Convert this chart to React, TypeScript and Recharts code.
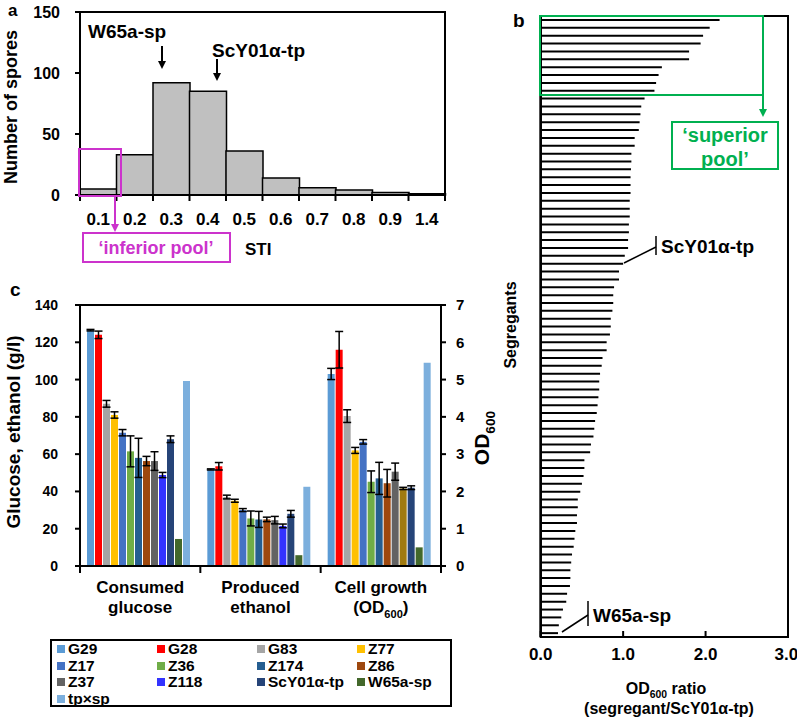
import React from "react";
import { Bar, BarChart, Cell, ComposedChart, ErrorBar, Legend, Line, XAxis, YAxis } from "recharts";

const FONT = "Arial, 'Liberation Sans', Helvetica, sans-serif";
const MAGENTA = "#cc33cc";
const GREEN = "#00b050";

// panel a: STI histogram
const stiBins = ["0.1", "0.2", "0.3", "0.4", "0.5", "0.6", "0.7", "0.8", "0.9", "1.4"];
const sporeCounts = [5, 33, 92, 85, 36, 14, 6, 4, 2, 1];
const sporeTicks = [0, 50, 100, 150];

// panel b: OD600 ratio of each segregant, sorted
const segregantRatios = [
  2.17, 2.05, 1.97, 1.94, 1.8, 1.8, 1.47, 1.43, 1.4, 1.38,
  1.26, 1.22, 1.21, 1.2, 1.19, 1.14, 1.14, 1.1, 1.1, 1.095,
  1.09, 1.09, 1.09, 1.08, 1.08, 1.08, 1.07, 1.07, 1.06, 1.06,
  1.02, 1.0, 0.95, 0.95, 0.89, 0.88, 0.88, 0.87, 0.85, 0.85,
  0.84, 0.8, 0.8, 0.75, 0.74, 0.72, 0.71, 0.71, 0.7, 0.69,
  0.68, 0.66, 0.65, 0.64, 0.61, 0.6, 0.53, 0.53, 0.52, 0.5,
  0.48, 0.45, 0.45, 0.44, 0.44, 0.42, 0.41, 0.4, 0.38, 0.37,
  0.36, 0.36, 0.355, 0.32, 0.31, 0.27, 0.25, 0.22, 0.21,
];
const ratioTicks = [0, 1, 2, 3];

// panel c: fermentation
const strains = ["G29", "G28", "G83", "Z77", "Z17", "Z36", "Z174", "Z86", "Z37", "Z118", "ScY01α-tp", "W65a-sp", "tp×sp"];
const strainColors = ["#5b9bd5", "#ff0000", "#a5a5a5", "#ffc000", "#4472c4", "#70ad47", "#255e91", "#9e480e", "#636363", "#3333ff", "#264478", "#43682b", "#7cafdd"];
const categoryLines = [["Consumed", "glucose"], ["Produced", "ethanol"], ["Cell growth", "(OD600)"]];
const glucose = [126.5, 124, 87, 81, 71.5, 61.5, 58, 56.3, 56.3, 48.8, 68, 14.5, 99.3];
const glucoseErr = [0.4, 2, 1.8, 1.7, 1.7, 8.3, 10.5, 2.5, 5, 1.4, 1.8, null, null];
const ethanol = [51.8, 53.5, 37, 35, 30, 25.5, 25, 25, 24.6, 21.5, 28, 5.8, 42.5];
const ethanolErr = [0.3, 2, 1, 0.8, 0.8, 4, 4.3, 1.2, 2, 1, 1.8, null, null];
const od600 = [5.15, 5.8, 4.02, 3.1, 3.33, 2.26, 2.35, 2.22, 2.53, 2.08, 2.1, 0.5, 5.45];
const od600Err = [0.15, 0.49, 0.17, 0.08, 0.06, 0.29, 0.43, 0.37, 0.23, 0.03, 0.05, null, null];
const glTicks = [0, 20, 40, 60, 80, 100, 120, 140];
const odTicks = [0, 1, 2, 3, 4, 5, 6, 7];
// the Z118 bar in the OD group is drawn in another colour in the original
const odZ118Color = "#a07a10";

const histData = stiBins.map((bin, i) => ({ bin, count: sporeCounts[i] }));
const segData = segregantRatios.map((ratio, i) => ({ id: String(i + 1), ratio }));

const GL_PER_OD = 140 / 7; // right axis 0-7 shares the left axis 0-140
const groupVals = [glucose, ethanol, od600.map((v) => v * GL_PER_OD)];
const groupErrs = [glucoseErr, ethanolErr, od600Err.map((v) => (v == null ? null : v * GL_PER_OD))];
const categories = categoryLines.map((l) => l.join(" "));
const fermData = categories.map((cat, g) => {
  const row: Record<string, any> = { cat, od: g === 2 ? Math.max(...od600) : null };
  strains.forEach((_, i) => {
    row["v" + i] = groupVals[g][i];
    if (groupErrs[g][i] != null) row["e" + i] = groupErrs[g][i];
  });
  return row;
});

const STI_BAND = (445 - 80) / stiBins.length;
const CAT_BAND = (441 - 80) / categories.length;
const axisLine = { stroke: "#000", strokeWidth: 2 };

function odText(text: string, size: number) {
  if (!text.includes("600")) return text;
  const [a, b] = text.split("600");
  return (
    <>
      {a}
      <tspan fontSize={size * 0.65} dy={size * 0.28}>600</tspan>
      {b ? <tspan dy={-size * 0.28}>{b}</tspan> : null}
    </>
  );
}

function StiTick(props: any) {
  const { x, y, payload, index } = props;
  const h = STI_BAND / 2;
  return (
    <g>
      <line x1={x - h} x2={x - h} y1={y} y2={y + 6} stroke="#000" strokeWidth={2} />
      {index === stiBins.length - 1 && <line x1={x + h} x2={x + h} y1={y} y2={y + 6} stroke="#000" strokeWidth={2} />}
      <text x={x} y={y + 30} textAnchor="middle" fontSize={17} fontWeight={700} fill="#000">
        {payload.value}
      </text>
    </g>
  );
}

function CatTick(props: any) {
  const { x, y, index } = props;
  const h = CAT_BAND / 2;
  const lines = categoryLines[index] || [];
  return (
    <g>
      <line x1={x - h} x2={x - h} y1={y} y2={y + 7} stroke="#000" strokeWidth={2} />
      {index === categories.length - 1 && <line x1={x + h} x2={x + h} y1={y} y2={y + 7} stroke="#000" strokeWidth={2} />}
      {lines.map((ln, k) => (
        <text key={k} x={x} y={y + 27 + k * 20} textAnchor="middle" fontSize={17} fontWeight={700} fill="#000">
          {odText(ln, 17)}
        </text>
      ))}
    </g>
  );
}

function LegendGrid() {
  return (
    <div style={{ display: "grid", gridTemplateColumns: "repeat(4, 100px)", fontSize: 15.5, fontWeight: 700, lineHeight: "16.5px", color: "#000" }}>
      {strains.map((s, i) => (
        <div key={s} style={{ display: "flex", alignItems: "center", whiteSpace: "nowrap" }}>
          <span style={{ width: 8, height: 8, background: strainColors[i], marginRight: 3, display: "inline-block" }} />
          {s}
        </div>
      ))}
    </div>
  );
}

function Arrow({ x, y1, y2, color }: { x: number; y1: number; y2: number; color: string }) {
  return (
    <g>
      <line x1={x} x2={x} y1={y1} y2={y2 - 7} stroke={color} strokeWidth={2} />
      <polygon points={`${x - 4},${y2 - 8} ${x + 4},${y2 - 8} ${x},${y2}`} fill={color} />
    </g>
  );
}

export default function App() {
  return (
    <div style={{ position: "absolute", left: 0, top: 0, width: 797, height: 720, background: "#fff", fontFamily: FONT, fontWeight: 700 }}>
      {/* a */}
      <div style={{ position: "absolute", left: 0, top: 0 }}>
        <BarChart width={460} height={240} data={histData} margin={{ top: 12, right: 15, bottom: 0, left: 0 }} barCategoryGap={0}>
          <XAxis dataKey="bin" height={45} interval={0} tickLine={false} tickSize={0} tickMargin={0} axisLine={axisLine} tick={<StiTick />} />
          <YAxis domain={[0, 150]} ticks={sporeTicks} width={80} tickSize={5} tickMargin={15} axisLine={axisLine} tickLine={axisLine} tick={{ fill: "#000", fontSize: 16, fontWeight: 700 }} />
          <Bar dataKey="count" fill="#c0c0c0" stroke="#000" strokeWidth={1.5} isAnimationActive={false} />
        </BarChart>
      </div>

      {/* b */}
      <div style={{ position: "absolute", left: 500, top: 0 }}>
        <BarChart width={297} height={720} data={segData} layout="vertical" margin={{ top: 16, right: 9, bottom: 0, left: 39.7 }}>
          <XAxis type="number" domain={[0, 3]} ticks={ratioTicks} height={83} tickFormatter={(v: number) => v.toFixed(1)} tickSize={-6} tickMargin={17} axisLine={axisLine} tickLine={axisLine} tick={{ fill: "#000", fontSize: 17, fontWeight: 700 }} />
          <YAxis type="category" dataKey="id" width={1} tick={false} tickLine={false} axisLine={{ stroke: "#000", strokeWidth: 2.5 }} />
          <Bar dataKey="ratio" fill="#000" barSize={2} isAnimationActive={false} />
        </BarChart>
      </div>

      {/* c */}
      <div style={{ position: "absolute", left: 0, top: 290 }}>
        <ComposedChart width={500} height={430} data={fermData} margin={{ top: 15, right: 0, bottom: 104, left: 0 }} barCategoryGap={7} barGap={1}>
          <XAxis dataKey="cat" height={50} interval={0} tickLine={false} tickSize={0} tickMargin={0} axisLine={axisLine} tick={<CatTick />} />
          <YAxis yAxisId="left" domain={[0, 140]} ticks={glTicks} width={80} tickSize={5} tickMargin={17} axisLine={axisLine} tickLine={axisLine} tick={{ fill: "#000", fontSize: 14, fontWeight: 700 }} />
          <YAxis yAxisId="right" orientation="right" type="number" domain={[0, 7]} allowDataOverflow ticks={odTicks} width={59} tickSize={5} tickMargin={10} axisLine={axisLine} tickLine={axisLine} tick={{ fill: "#000", fontSize: 15, fontWeight: 700 }} />
          <Legend
            layout="horizontal"
            verticalAlign="middle"
            align="center"
            content={() => <LegendGrid />}
            wrapperStyle={{ top: 349, left: 50, width: 402, height: 68, border: "2px solid #000", boxSizing: "border-box", padding: "0 0 0 5px", background: "#fff" }}
          />
          {strains.map((s, i) => (
            <Bar key={s} dataKey={"v" + i} name={s} yAxisId="left" fill={strainColors[i]} isAnimationActive={false}>
              {fermData.map((row, g) => (
                <Cell key={g} fill={g === 2 && s === "Z118" ? odZ118Color : strainColors[i]} />
              ))}
              {groupErrs.some((e) => e[i] != null) && (
                <ErrorBar dataKey={"e" + i} width={4} stroke="#000" strokeWidth={1.5} isAnimationActive={false} />
              )}
            </Bar>
          ))}
          {/* invisible series that carries the OD600 axis */}
          <Line yAxisId="right" dataKey="od" stroke="none" dot={false} activeDot={false} legendType="none" isAnimationActive={false} />
        </ComposedChart>
      </div>

      {/* frames, annotations and titles */}
      <svg width={797} height={720} style={{ position: "absolute", left: 0, top: 0, pointerEvents: "none", fontFamily: FONT, fontWeight: 700 }}>
        <rect x={80} y={12} width={365} height={183} fill="none" stroke="#000" strokeWidth={2} />
        <rect x={540.7} y={16} width={247.3} height={621} fill="none" stroke="#000" strokeWidth={2} />
        <rect x={80} y={305} width={361} height={261} fill="none" stroke="#000" strokeWidth={2} />

        <text x={8} y={16} fontSize={17}>a</text>
        <text x={513} y={27} fontSize={19}>b</text>
        <text x={10} y={296} fontSize={19}>c</text>

        <text transform="translate(17,107) rotate(-90)" textAnchor="middle" fontSize={18}>Number of spores</text>
        <text x={88} y={38} fontSize={19}>W65a-sp</text>
        <Arrow x={162} y1={46} y2={69} color="#000" />
        <text x={212} y={57} fontSize={19}>ScY01α-tp</text>
        <Arrow x={217} y1={59} y2={81} color="#000" />
        <rect x={79} y={149} width={42} height={47} fill="none" stroke={MAGENTA} strokeWidth={2} />
        <Arrow x={115} y1={196} y2={232} color={MAGENTA} />
        <rect x={83} y={233} width={147} height={29} fill="none" stroke={MAGENTA} strokeWidth={2} />
        <text x={156} y={254} textAnchor="middle" fontSize={18} fill={MAGENTA}>‘inferior pool’</text>
        <text x={245} y={255} fontSize={17}>STI</text>

        <rect x={540} y={16} width={223} height={79} fill="none" stroke={GREEN} strokeWidth={2} />
        <Arrow x={763} y1={95} y2={117} color={GREEN} />
        <rect x={672} y={122} width={106} height={47} fill="none" stroke={GREEN} strokeWidth={2} />
        <text x={725} y={142} textAnchor="middle" fontSize={20} fill={GREEN}>‘superior</text>
        <text x={725} y={166} textAnchor="middle" fontSize={20} fill={GREEN}>pool’</text>
        <line x1={624} y1={263} x2={656} y2={247} stroke="#000" strokeWidth={1.5} />
        <line x1={656} y1={236} x2={656} y2={255} stroke="#000" strokeWidth={1.5} />
        <text x={661} y={253} fontSize={19}>ScY01α-tp</text>
        <line x1={562} y1={632} x2={588} y2={615} stroke="#000" strokeWidth={1.5} />
        <line x1={588} y1={601} x2={588} y2={626} stroke="#000" strokeWidth={1.5} />
        <text x={593} y={622} fontSize={19}>W65a-sp</text>
        <text transform="translate(516,325) rotate(-90)" textAnchor="middle" fontSize={16}>Segregants</text>
        <text x={666} y={694} textAnchor="middle" fontSize={16}>{odText("OD600 ratio", 16)}</text>
        <text x={669} y={714} textAnchor="middle" fontSize={16}>(segregant/ScY01α-tp)</text>

        <text transform="translate(20,432) rotate(-90)" textAnchor="middle" fontSize={19}>Glucose, ethanol (g/l)</text>
        <text transform="translate(489,438) rotate(-90)" textAnchor="middle" fontSize={21}>{odText("OD600", 21)}</text>
      </svg>
    </div>
  );
}
